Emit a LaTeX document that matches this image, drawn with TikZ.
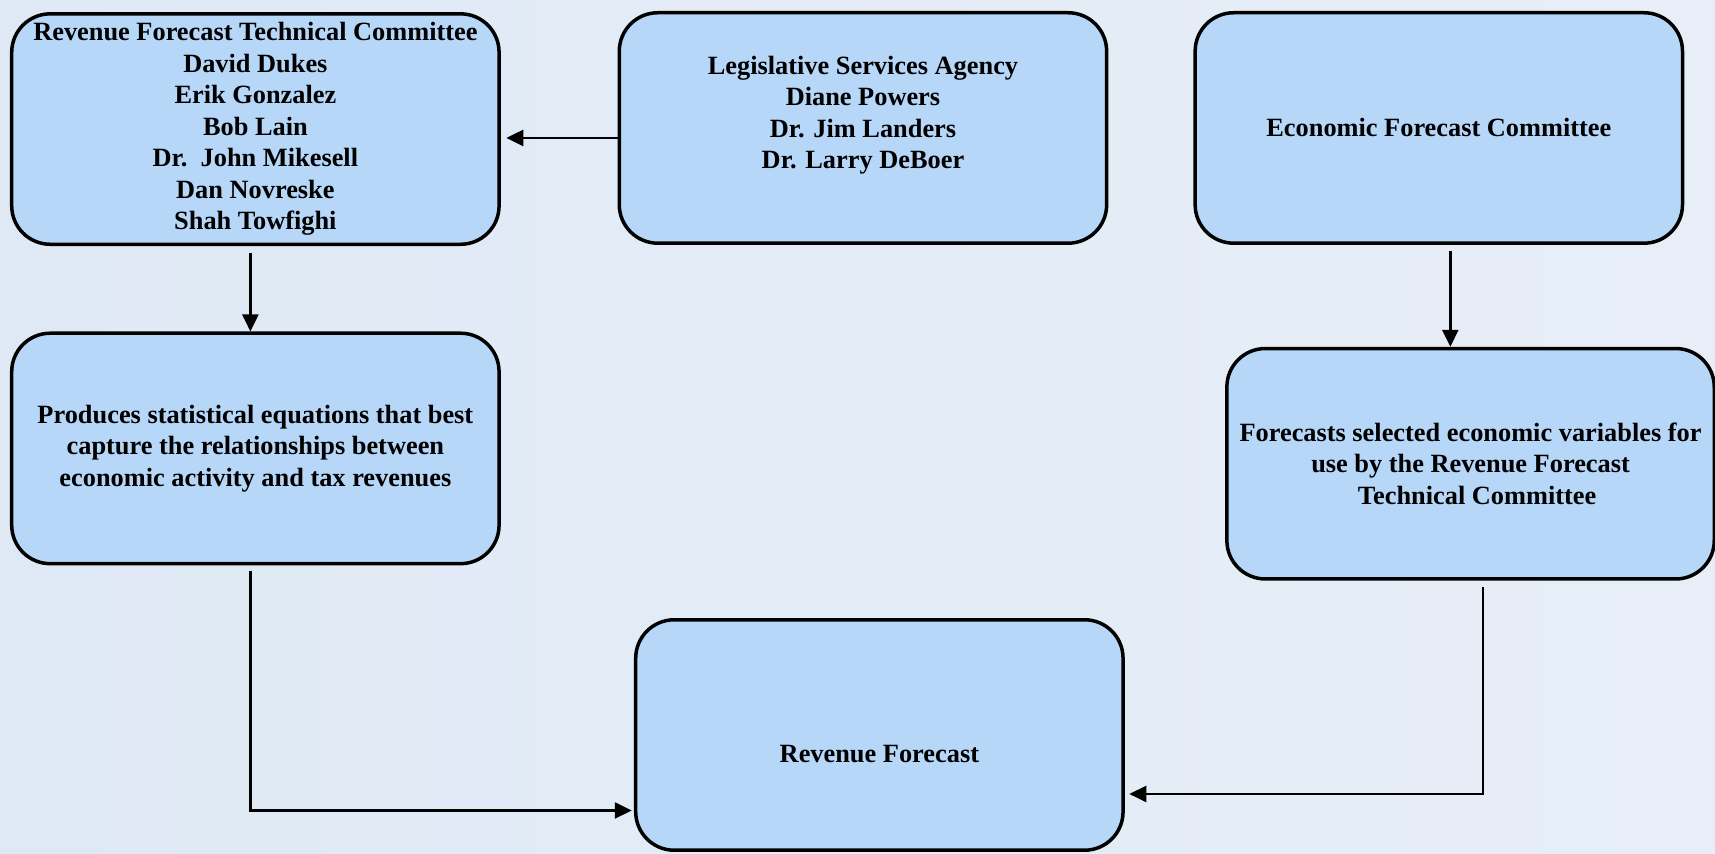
\documentclass[tikz,border=0pt]{standalone}
\usepackage{fontspec}
\setmainfont{Liberation Serif}
\usetikzlibrary{arrows.meta}
\definecolor{boxfill}{HTML}{B6D7F8}
\definecolor{bgleft}{HTML}{DFE9F5}
\definecolor{bgright}{HTML}{E7EEF7}
\tikzset{
  panel/.style={draw=black, line width=0.07cm, fill=boxfill, rounded corners=0.77cm,
    minimum width=9.75cm, minimum height=4.61cm, align=center, inner sep=0pt,
    font=\bfseries\fontsize{15}{17.9}\selectfont},
  flow/.style={line width=0.05cm, -{Triangle[length=0.34cm,width=0.32cm]}}
}
\begin{document}
\begin{tikzpicture}[x=0.021876cm,y=-0.021876cm]
% Drawing background
\shade [left color=bgleft, right color=bgright] (0,0) rectangle (1568,780);
\useasboundingbox (0,0) rectangle (1568,780);

% Drawing box Revenue Forecast Technical Committee
\node [panel] (rftc) at (233.5,118) {Revenue Forecast Technical Committee\\David Dukes\\Erik Gonzalez\\Bob Lain\\Dr.~~John Mikesell\\Dan Novreske\\Shah Towfighi};

% Drawing box Legislative Services Agency
\node [panel] (lsa) at (789,117) {Legislative Services Agency\\Diane Powers\\Dr. Jim Landers\\Dr. Larry DeBoer\\\mbox{}};

% Drawing box Economic Forecast Committee
\node [panel] (efc) at (1315.5,117) {Economic Forecast Committee};

% Drawing box equations
\node [panel] (equations) at (233.5,410) {Produces statistical equations that best\\capture the relationships between\\economic activity and tax revenues};

% Drawing box variables
\node [panel] (variables) at (1344.5,424) {Forecasts selected economic variables for\\use by the Revenue Forecast\\\ \ Technical Committee};

% Drawing box Revenue Forecast
\node [panel] (revenue) at (804,672) {\mbox{}\\[0.48cm]Revenue Forecast};

% Drawing connectors
\draw [flow] ([yshift=-0.2cm]lsa.west) -- ([xshift=0.11cm,yshift=-0.2cm]rftc.east |- lsa.west);%
\draw [flow] ([xshift=-0.1cm,yshift=-0.13cm]rftc.south) -- ([xshift=-0.1cm]rftc.south |- equations.north);%
\draw [flow] ([xshift=0.23cm,yshift=-0.13cm]efc.south) -- ([xshift=0.23cm]efc.south |- variables.north);%
\draw [flow] ([xshift=-0.1cm,yshift=-0.11cm]equations.south) |- ([xshift=-0.044cm,yshift=-1.51cm]revenue.west);%
\draw [flow] ([xshift=0.25cm,yshift=-0.13cm]variables.south) |- ([xshift=0.09cm,yshift=-1.18cm]revenue.east);%
\end{tikzpicture}
\end{document}
